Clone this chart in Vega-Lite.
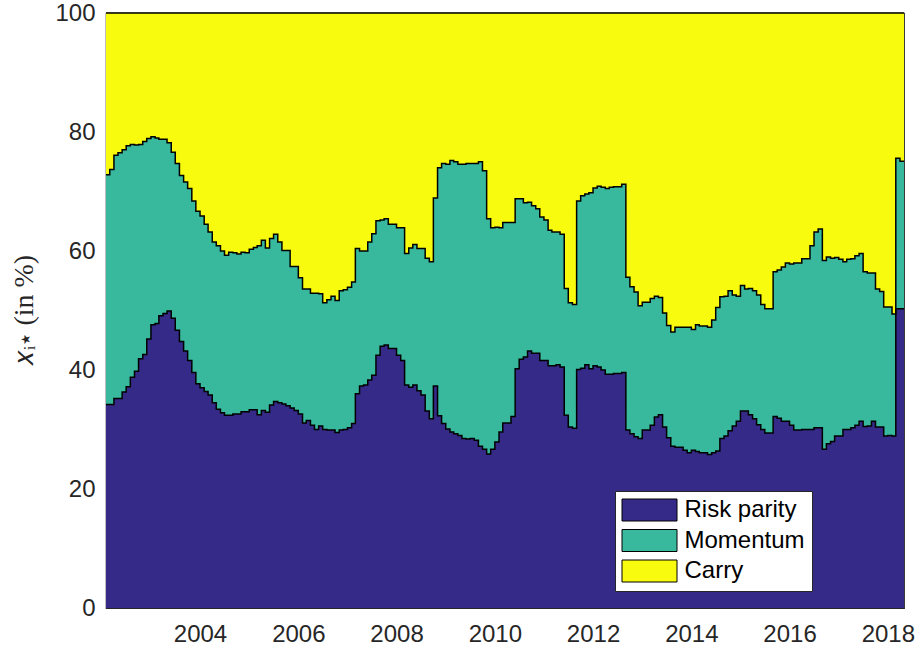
{
  "$schema": "https://vega.github.io/schema/vega-lite/v6.json",
  "width": 798,
  "height": 595,
  "autosize": {"type": "none"},
  "padding": {"left": 106, "top": 13, "right": 17, "bottom": 43},
  "background": "white",
  "config": {
    "view": {"stroke": "#262626", "strokeWidth": 1.2},
    "font": "Liberation Sans"
  },
  "data": {
    "values": [
      {"d":"2002-02-01","Risk parity":34.2,"Momentum":38.6,"Carry":27.2},
      {"d":"2002-03-01","Risk parity":34.2,"Momentum":39.5,"Carry":26.3},
      {"d":"2002-04-01","Risk parity":35.2,"Momentum":40.9,"Carry":23.9},
      {"d":"2002-05-01","Risk parity":35.2,"Momentum":41.3,"Carry":23.5},
      {"d":"2002-06-01","Risk parity":36.3,"Momentum":40.7,"Carry":23.0},
      {"d":"2002-07-01","Risk parity":37.2,"Momentum":40.5,"Carry":22.3},
      {"d":"2002-08-01","Risk parity":38.8,"Momentum":39.1,"Carry":22.1},
      {"d":"2002-09-01","Risk parity":39.8,"Momentum":38.0,"Carry":22.2},
      {"d":"2002-10-01","Risk parity":41.9,"Momentum":36.0,"Carry":22.1},
      {"d":"2002-11-01","Risk parity":42.6,"Momentum":35.8,"Carry":21.6},
      {"d":"2002-12-01","Risk parity":45.2,"Momentum":33.7,"Carry":21.1},
      {"d":"2003-01-01","Risk parity":47.6,"Momentum":31.6,"Carry":20.8},
      {"d":"2003-02-01","Risk parity":47.8,"Momentum":31.2,"Carry":21.0},
      {"d":"2003-03-01","Risk parity":49.1,"Momentum":29.7,"Carry":21.2},
      {"d":"2003-04-01","Risk parity":49.5,"Momentum":29.3,"Carry":21.2},
      {"d":"2003-05-01","Risk parity":49.9,"Momentum":28.3,"Carry":21.8},
      {"d":"2003-06-01","Risk parity":48.7,"Momentum":27.9,"Carry":23.4},
      {"d":"2003-07-01","Risk parity":46.7,"Momentum":28.0,"Carry":25.3},
      {"d":"2003-08-01","Risk parity":44.8,"Momentum":27.9,"Carry":27.3},
      {"d":"2003-09-01","Risk parity":43.2,"Momentum":28.4,"Carry":28.4},
      {"d":"2003-10-01","Risk parity":41.6,"Momentum":28.9,"Carry":29.5},
      {"d":"2003-11-01","Risk parity":39.6,"Momentum":28.8,"Carry":31.6},
      {"d":"2003-12-01","Risk parity":37.7,"Momentum":29.0,"Carry":33.3},
      {"d":"2004-01-01","Risk parity":37.0,"Momentum":28.9,"Carry":34.1},
      {"d":"2004-02-01","Risk parity":36.4,"Momentum":28.1,"Carry":35.5},
      {"d":"2004-03-01","Risk parity":35.8,"Momentum":27.4,"Carry":36.8},
      {"d":"2004-04-01","Risk parity":34.5,"Momentum":27.0,"Carry":38.5},
      {"d":"2004-05-01","Risk parity":33.4,"Momentum":27.5,"Carry":39.1},
      {"d":"2004-06-01","Risk parity":32.8,"Momentum":27.2,"Carry":40.0},
      {"d":"2004-07-01","Risk parity":32.4,"Momentum":26.9,"Carry":40.7},
      {"d":"2004-08-01","Risk parity":32.4,"Momentum":27.4,"Carry":40.2},
      {"d":"2004-09-01","Risk parity":32.6,"Momentum":27.1,"Carry":40.3},
      {"d":"2004-10-01","Risk parity":32.6,"Momentum":26.9,"Carry":40.5},
      {"d":"2004-11-01","Risk parity":33.0,"Momentum":26.8,"Carry":40.2},
      {"d":"2004-12-01","Risk parity":33.0,"Momentum":26.7,"Carry":40.3},
      {"d":"2005-01-01","Risk parity":33.3,"Momentum":27.0,"Carry":39.7},
      {"d":"2005-02-01","Risk parity":33.3,"Momentum":27.3,"Carry":39.4},
      {"d":"2005-03-01","Risk parity":32.5,"Momentum":28.4,"Carry":39.1},
      {"d":"2005-04-01","Risk parity":33.2,"Momentum":28.6,"Carry":38.2},
      {"d":"2005-05-01","Risk parity":32.9,"Momentum":27.6,"Carry":39.5},
      {"d":"2005-06-01","Risk parity":34.1,"Momentum":28.0,"Carry":37.9},
      {"d":"2005-07-01","Risk parity":34.7,"Momentum":28.1,"Carry":37.2},
      {"d":"2005-08-01","Risk parity":34.5,"Momentum":27.0,"Carry":38.5},
      {"d":"2005-09-01","Risk parity":34.3,"Momentum":25.8,"Carry":39.9},
      {"d":"2005-10-01","Risk parity":34.0,"Momentum":26.1,"Carry":39.9},
      {"d":"2005-11-01","Risk parity":33.6,"Momentum":23.8,"Carry":42.6},
      {"d":"2005-12-01","Risk parity":33.2,"Momentum":24.2,"Carry":42.6},
      {"d":"2006-01-01","Risk parity":32.6,"Momentum":22.9,"Carry":44.5},
      {"d":"2006-02-01","Risk parity":31.1,"Momentum":22.5,"Carry":46.4},
      {"d":"2006-03-01","Risk parity":31.5,"Momentum":22.1,"Carry":46.4},
      {"d":"2006-04-01","Risk parity":30.7,"Momentum":22.2,"Carry":47.1},
      {"d":"2006-05-01","Risk parity":30.0,"Momentum":22.9,"Carry":47.1},
      {"d":"2006-06-01","Risk parity":30.6,"Momentum":22.2,"Carry":47.2},
      {"d":"2006-07-01","Risk parity":30.0,"Momentum":21.3,"Carry":48.7},
      {"d":"2006-08-01","Risk parity":29.9,"Momentum":21.9,"Carry":48.2},
      {"d":"2006-09-01","Risk parity":29.9,"Momentum":22.5,"Carry":47.6},
      {"d":"2006-10-01","Risk parity":29.5,"Momentum":22.2,"Carry":48.3},
      {"d":"2006-11-01","Risk parity":29.9,"Momentum":23.4,"Carry":46.7},
      {"d":"2006-12-01","Risk parity":30.0,"Momentum":23.5,"Carry":46.5},
      {"d":"2007-01-01","Risk parity":30.3,"Momentum":23.6,"Carry":46.1},
      {"d":"2007-02-01","Risk parity":31.0,"Momentum":23.8,"Carry":45.2},
      {"d":"2007-03-01","Risk parity":36.0,"Momentum":24.4,"Carry":39.6},
      {"d":"2007-04-01","Risk parity":37.3,"Momentum":22.7,"Carry":40.0},
      {"d":"2007-05-01","Risk parity":37.5,"Momentum":22.5,"Carry":40.0},
      {"d":"2007-06-01","Risk parity":38.3,"Momentum":23.2,"Carry":38.5},
      {"d":"2007-07-01","Risk parity":39.1,"Momentum":23.8,"Carry":37.1},
      {"d":"2007-08-01","Risk parity":42.5,"Momentum":22.6,"Carry":34.9},
      {"d":"2007-09-01","Risk parity":44.0,"Momentum":21.2,"Carry":34.8},
      {"d":"2007-10-01","Risk parity":44.2,"Momentum":21.2,"Carry":34.6},
      {"d":"2007-11-01","Risk parity":43.6,"Momentum":20.9,"Carry":35.5},
      {"d":"2007-12-01","Risk parity":43.6,"Momentum":20.9,"Carry":35.5},
      {"d":"2008-01-01","Risk parity":42.5,"Momentum":21.4,"Carry":36.1},
      {"d":"2008-02-01","Risk parity":41.6,"Momentum":22.3,"Carry":36.1},
      {"d":"2008-03-01","Risk parity":37.5,"Momentum":22.1,"Carry":40.4},
      {"d":"2008-04-01","Risk parity":37.1,"Momentum":23.4,"Carry":39.5},
      {"d":"2008-05-01","Risk parity":37.5,"Momentum":23.6,"Carry":38.9},
      {"d":"2008-06-01","Risk parity":36.5,"Momentum":23.9,"Carry":39.6},
      {"d":"2008-07-01","Risk parity":35.8,"Momentum":24.6,"Carry":39.6},
      {"d":"2008-08-01","Risk parity":33.1,"Momentum":25.7,"Carry":41.2},
      {"d":"2008-09-01","Risk parity":31.8,"Momentum":26.4,"Carry":41.8},
      {"d":"2008-10-01","Risk parity":37.3,"Momentum":31.6,"Carry":31.1},
      {"d":"2008-11-01","Risk parity":32.3,"Momentum":41.7,"Carry":26.0},
      {"d":"2008-12-01","Risk parity":31.0,"Momentum":43.7,"Carry":25.3},
      {"d":"2009-01-01","Risk parity":30.1,"Momentum":44.5,"Carry":25.4},
      {"d":"2009-02-01","Risk parity":29.6,"Momentum":45.6,"Carry":24.8},
      {"d":"2009-03-01","Risk parity":29.3,"Momentum":45.7,"Carry":25.0},
      {"d":"2009-04-01","Risk parity":29.0,"Momentum":45.6,"Carry":25.4},
      {"d":"2009-05-01","Risk parity":28.5,"Momentum":46.1,"Carry":25.4},
      {"d":"2009-06-01","Risk parity":28.4,"Momentum":46.3,"Carry":25.3},
      {"d":"2009-07-01","Risk parity":28.5,"Momentum":46.2,"Carry":25.3},
      {"d":"2009-08-01","Risk parity":28.2,"Momentum":46.5,"Carry":25.3},
      {"d":"2009-09-01","Risk parity":27.2,"Momentum":47.8,"Carry":25.0},
      {"d":"2009-10-01","Risk parity":26.7,"Momentum":46.8,"Carry":26.5},
      {"d":"2009-11-01","Risk parity":25.9,"Momentum":39.5,"Carry":34.6},
      {"d":"2009-12-01","Risk parity":26.7,"Momentum":37.2,"Carry":36.1},
      {"d":"2010-01-01","Risk parity":27.9,"Momentum":36.1,"Carry":36.0},
      {"d":"2010-02-01","Risk parity":29.6,"Momentum":34.3,"Carry":36.1},
      {"d":"2010-03-01","Risk parity":31.1,"Momentum":33.7,"Carry":35.2},
      {"d":"2010-04-01","Risk parity":31.1,"Momentum":33.7,"Carry":35.2},
      {"d":"2010-05-01","Risk parity":32.2,"Momentum":32.6,"Carry":35.2},
      {"d":"2010-06-01","Risk parity":40.2,"Momentum":28.6,"Carry":31.2},
      {"d":"2010-07-01","Risk parity":41.8,"Momentum":27.0,"Carry":31.2},
      {"d":"2010-08-01","Risk parity":42.2,"Momentum":25.9,"Carry":31.9},
      {"d":"2010-09-01","Risk parity":43.2,"Momentum":25.0,"Carry":31.8},
      {"d":"2010-10-01","Risk parity":42.8,"Momentum":24.8,"Carry":32.4},
      {"d":"2010-11-01","Risk parity":42.8,"Momentum":24.3,"Carry":32.9},
      {"d":"2010-12-01","Risk parity":41.6,"Momentum":24.1,"Carry":34.3},
      {"d":"2011-01-01","Risk parity":41.6,"Momentum":23.6,"Carry":34.8},
      {"d":"2011-02-01","Risk parity":40.7,"Momentum":22.8,"Carry":36.5},
      {"d":"2011-03-01","Risk parity":40.7,"Momentum":22.5,"Carry":36.8},
      {"d":"2011-04-01","Risk parity":40.9,"Momentum":22.3,"Carry":36.8},
      {"d":"2011-05-01","Risk parity":40.5,"Momentum":22.3,"Carry":37.2},
      {"d":"2011-06-01","Risk parity":32.4,"Momentum":21.3,"Carry":46.3},
      {"d":"2011-07-01","Risk parity":30.4,"Momentum":20.9,"Carry":48.7},
      {"d":"2011-08-01","Risk parity":30.2,"Momentum":20.8,"Carry":49.0},
      {"d":"2011-09-01","Risk parity":40.1,"Momentum":28.3,"Carry":31.6},
      {"d":"2011-10-01","Risk parity":40.3,"Momentum":29.0,"Carry":30.7},
      {"d":"2011-11-01","Risk parity":40.9,"Momentum":28.7,"Carry":30.4},
      {"d":"2011-12-01","Risk parity":40.2,"Momentum":29.6,"Carry":30.2},
      {"d":"2012-01-01","Risk parity":40.7,"Momentum":29.9,"Carry":29.4},
      {"d":"2012-02-01","Risk parity":40.5,"Momentum":30.4,"Carry":29.1},
      {"d":"2012-03-01","Risk parity":40.0,"Momentum":30.7,"Carry":29.3},
      {"d":"2012-04-01","Risk parity":39.3,"Momentum":31.2,"Carry":29.5},
      {"d":"2012-05-01","Risk parity":39.3,"Momentum":31.4,"Carry":29.3},
      {"d":"2012-06-01","Risk parity":39.4,"Momentum":31.4,"Carry":29.2},
      {"d":"2012-07-01","Risk parity":39.4,"Momentum":31.4,"Carry":29.2},
      {"d":"2012-08-01","Risk parity":39.6,"Momentum":31.6,"Carry":28.8},
      {"d":"2012-09-01","Risk parity":29.9,"Momentum":25.7,"Carry":44.4},
      {"d":"2012-10-01","Risk parity":29.3,"Momentum":24.7,"Carry":46.0},
      {"d":"2012-11-01","Risk parity":28.8,"Momentum":24.3,"Carry":46.9},
      {"d":"2012-12-01","Risk parity":28.5,"Momentum":22.3,"Carry":49.2},
      {"d":"2013-01-01","Risk parity":29.9,"Momentum":21.5,"Carry":48.6},
      {"d":"2013-02-01","Risk parity":29.9,"Momentum":21.5,"Carry":48.6},
      {"d":"2013-03-01","Risk parity":30.7,"Momentum":21.3,"Carry":48.0},
      {"d":"2013-04-01","Risk parity":32.1,"Momentum":20.3,"Carry":47.6},
      {"d":"2013-05-01","Risk parity":32.5,"Momentum":19.7,"Carry":47.8},
      {"d":"2013-06-01","Risk parity":30.4,"Momentum":19.2,"Carry":50.4},
      {"d":"2013-07-01","Risk parity":28.6,"Momentum":18.9,"Carry":52.5},
      {"d":"2013-08-01","Risk parity":27.2,"Momentum":19.2,"Carry":53.6},
      {"d":"2013-09-01","Risk parity":27.0,"Momentum":20.2,"Carry":52.8},
      {"d":"2013-10-01","Risk parity":27.0,"Momentum":20.2,"Carry":52.8},
      {"d":"2013-11-01","Risk parity":26.5,"Momentum":20.7,"Carry":52.8},
      {"d":"2013-12-01","Risk parity":26.1,"Momentum":21.1,"Carry":52.8},
      {"d":"2014-01-01","Risk parity":26.5,"Momentum":20.3,"Carry":53.2},
      {"d":"2014-02-01","Risk parity":26.3,"Momentum":21.3,"Carry":52.4},
      {"d":"2014-03-01","Risk parity":26.1,"Momentum":21.3,"Carry":52.6},
      {"d":"2014-04-01","Risk parity":26.1,"Momentum":21.3,"Carry":52.6},
      {"d":"2014-05-01","Risk parity":25.8,"Momentum":21.4,"Carry":52.8},
      {"d":"2014-06-01","Risk parity":26.1,"Momentum":22.3,"Carry":51.6},
      {"d":"2014-07-01","Risk parity":26.4,"Momentum":24.1,"Carry":49.5},
      {"d":"2014-08-01","Risk parity":28.5,"Momentum":23.8,"Carry":47.7},
      {"d":"2014-09-01","Risk parity":28.9,"Momentum":23.5,"Carry":47.6},
      {"d":"2014-10-01","Risk parity":29.8,"Momentum":23.5,"Carry":46.7},
      {"d":"2014-11-01","Risk parity":30.6,"Momentum":22.0,"Carry":47.4},
      {"d":"2014-12-01","Risk parity":31.4,"Momentum":21.0,"Carry":47.6},
      {"d":"2015-01-01","Risk parity":33.1,"Momentum":21.1,"Carry":45.8},
      {"d":"2015-02-01","Risk parity":33.1,"Momentum":20.5,"Carry":46.4},
      {"d":"2015-03-01","Risk parity":32.5,"Momentum":21.2,"Carry":46.3},
      {"d":"2015-04-01","Risk parity":31.8,"Momentum":21.5,"Carry":46.7},
      {"d":"2015-05-01","Risk parity":30.8,"Momentum":21.8,"Carry":47.4},
      {"d":"2015-06-01","Risk parity":30.0,"Momentum":21.0,"Carry":49.0},
      {"d":"2015-07-01","Risk parity":29.4,"Momentum":20.9,"Carry":49.7},
      {"d":"2015-08-01","Risk parity":29.4,"Momentum":20.9,"Carry":49.7},
      {"d":"2015-09-01","Risk parity":32.2,"Momentum":24.3,"Carry":43.5},
      {"d":"2015-10-01","Risk parity":31.9,"Momentum":24.9,"Carry":43.2},
      {"d":"2015-11-01","Risk parity":31.4,"Momentum":25.9,"Carry":42.7},
      {"d":"2015-12-01","Risk parity":31.4,"Momentum":26.6,"Carry":42.0},
      {"d":"2016-01-01","Risk parity":30.7,"Momentum":27.1,"Carry":42.2},
      {"d":"2016-02-01","Risk parity":29.9,"Momentum":28.1,"Carry":42.0},
      {"d":"2016-03-01","Risk parity":29.9,"Momentum":28.1,"Carry":42.0},
      {"d":"2016-04-01","Risk parity":30.0,"Momentum":28.7,"Carry":41.3},
      {"d":"2016-05-01","Risk parity":30.0,"Momentum":28.7,"Carry":41.3},
      {"d":"2016-06-01","Risk parity":30.0,"Momentum":30.9,"Carry":39.1},
      {"d":"2016-07-01","Risk parity":30.3,"Momentum":32.9,"Carry":36.8},
      {"d":"2016-08-01","Risk parity":30.3,"Momentum":33.4,"Carry":36.3},
      {"d":"2016-09-01","Risk parity":26.7,"Momentum":31.7,"Carry":41.6},
      {"d":"2016-10-01","Risk parity":27.6,"Momentum":31.4,"Carry":41.0},
      {"d":"2016-11-01","Risk parity":28.0,"Momentum":30.8,"Carry":41.2},
      {"d":"2016-12-01","Risk parity":28.9,"Momentum":30.0,"Carry":41.1},
      {"d":"2017-01-01","Risk parity":28.9,"Momentum":29.7,"Carry":41.4},
      {"d":"2017-02-01","Risk parity":30.0,"Momentum":28.2,"Carry":41.8},
      {"d":"2017-03-01","Risk parity":30.0,"Momentum":28.6,"Carry":41.4},
      {"d":"2017-04-01","Risk parity":30.3,"Momentum":28.4,"Carry":41.3},
      {"d":"2017-05-01","Risk parity":30.7,"Momentum":28.5,"Carry":40.8},
      {"d":"2017-06-01","Risk parity":31.4,"Momentum":28.2,"Carry":40.4},
      {"d":"2017-07-01","Risk parity":30.5,"Momentum":26.0,"Carry":43.5},
      {"d":"2017-08-01","Risk parity":30.6,"Momentum":25.7,"Carry":43.7},
      {"d":"2017-09-01","Risk parity":31.4,"Momentum":24.9,"Carry":43.7},
      {"d":"2017-10-01","Risk parity":30.4,"Momentum":23.2,"Carry":46.4},
      {"d":"2017-11-01","Risk parity":30.4,"Momentum":22.8,"Carry":46.8},
      {"d":"2017-12-01","Risk parity":28.9,"Momentum":21.7,"Carry":49.4},
      {"d":"2018-01-01","Risk parity":29.0,"Momentum":21.6,"Carry":49.4},
      {"d":"2018-02-01","Risk parity":28.9,"Momentum":20.5,"Carry":50.6},
      {"d":"2018-03-01","Risk parity":50.3,"Momentum":25.3,"Carry":24.4},
      {"d":"2018-04-01","Risk parity":50.3,"Momentum":24.8,"Carry":24.9},
      {"d":"2018-05-01","Risk parity":50.3,"Momentum":24.8,"Carry":24.9}
    ]
  },
  "transform": [
    {"fold": ["Risk parity", "Momentum", "Carry"], "as": ["series", "share"]}
  ],
  "encoding": {
    "x": {
      "field": "d",
      "type": "temporal",
      "scale": {
        "type": "utc",
        "domain": [
          {"year": 2002, "month": 2, "date": 1, "utc": true},
          {"year": 2018, "month": 5, "date": 1, "utc": true}
        ],
        "nice": false
      },
      "axis": {
        "title": null,
        "grid": false,
        "values": [
          {"year": 2004, "month": 1, "date": 1, "utc": true},
          {"year": 2006, "month": 1, "date": 1, "utc": true},
          {"year": 2008, "month": 1, "date": 1, "utc": true},
          {"year": 2010, "month": 1, "date": 1, "utc": true},
          {"year": 2012, "month": 1, "date": 1, "utc": true},
          {"year": 2014, "month": 1, "date": 1, "utc": true},
          {"year": 2016, "month": 1, "date": 1, "utc": true},
          {"year": 2018, "month": 1, "date": 1, "utc": true}
        ],
        "format": "%Y",
        "tickSize": -8,
        "tickColor": "#262626",
        "domainColor": "#262626",
        "labelColor": "#262626",
        "labelFont": "Liberation Sans",
        "labelFontSize": 24,
        "labelPadding": 22,
        "labelFlush": false,
        "labelOverlap": false
      }
    },
    "y": {
      "field": "share",
      "type": "quantitative",
      "stack": "zero",
      "scale": {"domain": [0, 100], "nice": false},
      "axis": {
        "title": "𝑥ᵢ⋆ (in %)",
        "titleFont": "Liberation Serif",
        "titleFontSize": 28,
        "titleFontWeight": "normal",
        "titleColor": "#262626",
        "titleX": -82,
        "titleY": 297,
        "titleBaseline": "middle",
        "grid": false,
        "values": [0, 20, 40, 60, 80, 100],
        "tickSize": -8,
        "tickColor": "#262626",
        "domainColor": "#262626",
        "labelColor": "#262626",
        "labelFont": "Liberation Sans",
        "labelFontSize": 24,
        "labelPadding": 19
      }
    }
  },
  "layer": [
    {
      "mark": {"type": "area", "interpolate": "step-after"},
      "encoding": {
        "color": {
          "field": "series",
          "type": "nominal",
          "scale": {
            "domain": ["Risk parity", "Momentum", "Carry"],
            "range": ["#352a87", "#38b99e", "#f9fb0e"]
          },
          "legend": {
            "title": null,
            "orient": "none",
            "legendX": 509,
            "legendY": 478,
            "fillColor": "white",
            "strokeColor": "#262626",
            "padding": 7,
            "symbolType": "M-2.75,-1.1H2.75V1.1H-2.75Z",
            "symbolSize": 400,
            "symbolOffset": 15.5,
            "symbolStrokeColor": "black",
            "symbolStrokeWidth": 1,
            "symbolOpacity": 1,
            "labelFont": "Liberation Sans",
            "labelFontSize": 24,
            "labelColor": "black",
            "labelOffset": 23,
            "labelLimit": 300,
            "rowPadding": 4.5
          }
        }
      }
    },
    {
      "mark": {"type": "line", "interpolate": "step-after", "strokeWidth": 1.5},
      "encoding": {
        "detail": {"field": "series", "type": "nominal"},
        "color": {"value": "black"}
      }
    }
  ]
}
